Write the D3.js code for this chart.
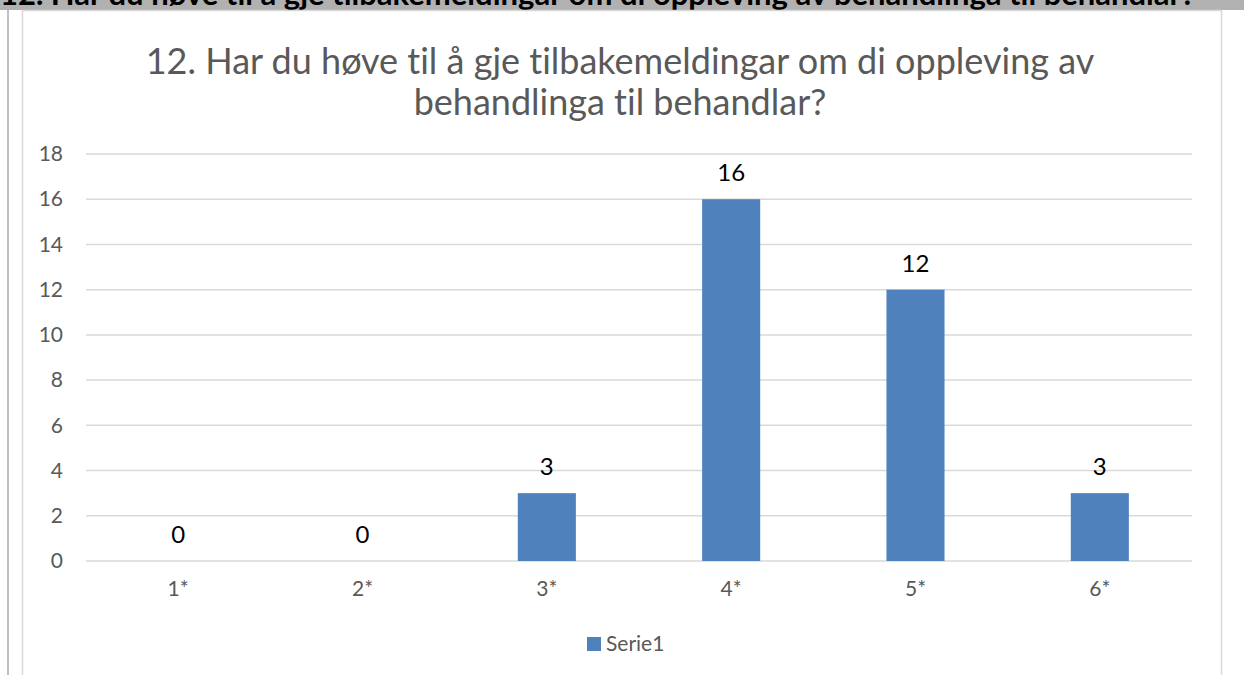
<!DOCTYPE html>
<html>
<head>
<meta charset="utf-8">
<script src="https://cdn.jsdelivr.net/npm/d3@7"></script>
<style>
  body { margin: 0; background: #fff; overflow: hidden; }
  svg { display: block; }
  text { font-variant-ligatures: none; }
</style>
</head>
<body>
<div class="chart_wrapper"></div>
<script>
// data
const heading = "12. Har du høve til å gje tilbakemeldingar om di oppleving av behandlinga til behandlar?"
const titleLines = ["12. Har du høve til å gje tilbakemeldingar om di oppleving av", "behandlinga til behandlar?"]
const categories = ["1*", "2*", "3*", "4*", "5*", "6*"]
const values = [0, 0, 3, 16, 12, 3]
const yTicks = [0, 2, 4, 6, 8, 10, 12, 14, 16, 18]
const seriesName = "Serie1"

const font = "Lato, 'Open Sans', sans-serif"
const barColor = "#4f81bd"

const wrapper = d3.select(".chart_wrapper")
  .append("svg")
  .attr("width", 1244)
  .attr("height", 675)

// page bits: grey heading strip, frames
wrapper.append("rect")
  .attr("x", 0).attr("y", 0).attr("width", 1244).attr("height", 10)
  .attr("fill", "#b1b1b1")

wrapper.append("text")
  .attr("x", 0).attr("y", 5)
  .attr("font-family", font)
  .attr("font-weight", "bold")
  .attr("font-size", 31)
  .attr("fill", "#000")
  .text(heading)

// re-cover anything of the heading below the strip
wrapper.append("rect")
  .attr("x", 0).attr("y", 10).attr("width", 1244).attr("height", 665)
  .attr("fill", "#fff")

wrapper.append("line")
  .attr("x1", 8).attr("x2", 8).attr("y1", 10).attr("y2", 675)
  .attr("stroke", "#bfbfbf").attr("stroke-width", 2)

wrapper.append("rect")
  .attr("x", 22.5).attr("y", 10.5).attr("width", 1199).attr("height", 700)
  .attr("fill", "none")
  .attr("stroke", "#d9d9d9").attr("stroke-width", 1.5)

// title
wrapper.append("text")
  .attr("text-anchor", "middle")
  .attr("font-family", font)
  .attr("font-size", 36)
  .attr("fill", "#595959")
  .selectAll("tspan")
  .data(titleLines)
  .join("tspan")
  .attr("x", 620)
  .attr("y", (d, i) => 74 + i * 41)
  .text(d => d)

let dimensions = {
  width: 1244,
  height: 675,
  margin: { top: 154, right: 52, bottom: 114, left: 86 },
}
dimensions.boundedWidth = dimensions.width - dimensions.margin.left - dimensions.margin.right
dimensions.boundedHeight = dimensions.height - dimensions.margin.top - dimensions.margin.bottom

const bounds = wrapper.append("g")
  .attr("transform", `translate(${dimensions.margin.left},${dimensions.margin.top})`)

const xScale = d3.scaleBand()
  .domain(categories)
  .range([0, dimensions.boundedWidth])
  .paddingInner(0.685)
  .paddingOuter(0.3425)

const yScale = d3.scaleLinear()
  .domain([0, 18])
  .range([dimensions.boundedHeight, 0])

// gridlines
bounds.append("g")
  .selectAll("line")
  .data(yTicks)
  .join("line")
  .attr("x1", 0).attr("x2", dimensions.boundedWidth)
  .attr("y1", d => yScale(d)).attr("y2", d => yScale(d))
  .attr("stroke", "#d9d9d9").attr("stroke-width", 1.5)

// y axis
const yAxis = d3.axisLeft(yScale).tickValues(yTicks).tickSize(0).tickPadding(23)
const yG = bounds.append("g").call(yAxis)
yG.select(".domain").remove()
yG.selectAll("text")
  .attr("font-family", font).attr("font-size", 21).attr("fill", "#595959")

// x axis
const xAxis = d3.axisBottom(xScale).tickSize(0).tickPadding(20)
const xG = bounds.append("g")
  .attr("transform", `translate(0,${dimensions.boundedHeight})`)
  .call(xAxis)
xG.select(".domain").remove()
xG.selectAll("text")
  .attr("font-family", font).attr("font-size", 21).attr("fill", "#595959")

// bars
const rows = categories.map((c, i) => ({ cat: c, n: values[i] }))

bounds.selectAll(".bar")
  .data(rows)
  .join("rect")
  .attr("class", "bar")
  .attr("x", d => xScale(d.cat))
  .attr("y", d => yScale(d.n))
  .attr("width", xScale.bandwidth())
  .attr("height", d => dimensions.boundedHeight - yScale(d.n))
  .attr("fill", barColor)

// data labels
bounds.selectAll(".lbl")
  .data(rows)
  .join("text")
  .attr("class", "lbl")
  .attr("x", d => xScale(d.cat) + xScale.bandwidth() / 2)
  .attr("y", d => yScale(d.n) - 18)
  .attr("text-anchor", "middle")
  .attr("font-family", font).attr("font-size", 24).attr("fill", "#000")
  .text(d => d.n)

// legend
const legend = wrapper.append("g").attr("transform", "translate(587,637)")
legend.append("rect").attr("width", 14).attr("height", 14).attr("fill", barColor)
legend.append("text")
  .attr("x", 19).attr("y", 14)
  .attr("font-family", font).attr("font-size", 21).attr("fill", "#595959")
  .text(seriesName)
</script>
</body>
</html>
